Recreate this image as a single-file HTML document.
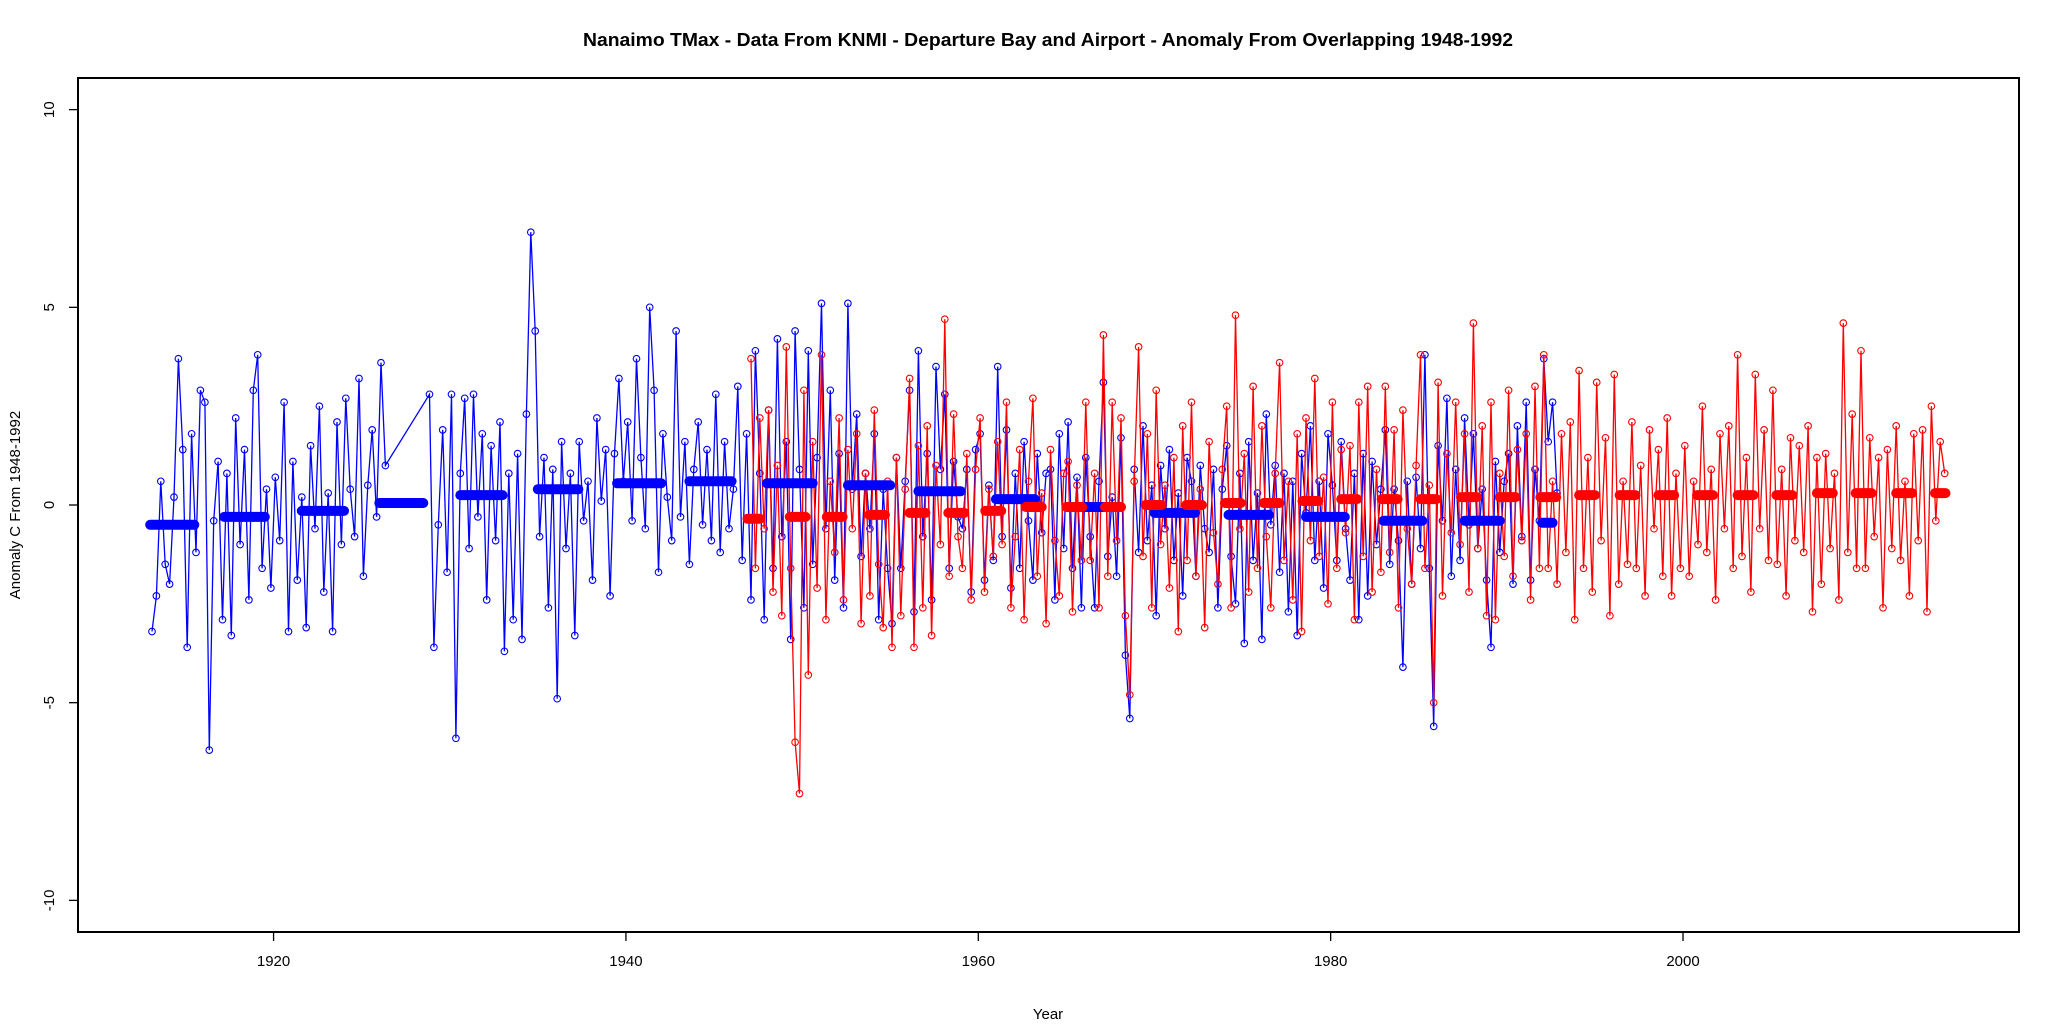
<!DOCTYPE html>
<html><head><meta charset="utf-8"><style>
html,body{margin:0;padding:0;background:#fff}
svg{display:block;font-family:"Liberation Sans",Arial,sans-serif}
</style></head><body>
<svg id="chart" width="2060" height="1029" viewBox="0 0 2060 1029" xmlns="http://www.w3.org/2000/svg">
<rect x="0" y="0" width="2060" height="1029" fill="#fff"/>
<text x="1048" y="46" text-anchor="middle" font-size="18" font-weight="bold" textLength="930" lengthAdjust="spacingAndGlyphs">Nanaimo TMax - Data From KNMI - Departure Bay and Airport - Anomaly From Overlapping 1948-1992</text>
<g id="series"></g>
<rect x="78" y="78" width="1941" height="854" fill="none" stroke="#000" stroke-width="2"/>
<g id="axes"></g>
<text x="1048" y="1019" text-anchor="middle" font-size="15">Year</text>
<text transform="translate(20,505) rotate(-90)" text-anchor="middle" font-size="15">Anomaly C From 1948-1992</text>
</svg>
<script>
const xTicks = [1920, 1940, 1960, 1980, 2000];
const yTicks = [-10, -5, 0, 5, 10];
const blueStart = 1913;
const blueValues = [
-3.2,-2.3,0.6,-1.5, -2.0,0.2,3.7,1.4, -3.6,1.8,-1.2,2.9, 2.6,-6.2,-0.4,1.1,
-2.9,0.8,-3.3,2.2, -1.0,1.4,-2.4,2.9, 3.8,-1.6,0.4,-2.1, 0.7,-0.9,2.6,-3.2,
1.1,-1.9,0.2,-3.1, 1.5,-0.6,2.5,-2.2, 0.3,-3.2,2.1,-1.0, 2.7,0.4,-0.8,3.2,
-1.8,0.5,1.9,-0.3, 3.6,1.0,null,null, null,null,null,null, null,null,null,2.8,
-3.6,-0.5,1.9,-1.7, 2.8,-5.9,0.8,2.7, -1.1,2.8,-0.3,1.8, -2.4,1.5,-0.9,2.1,
-3.7,0.8,-2.9,1.3, -3.4,2.3,6.9,4.4, -0.8,1.2,-2.6,0.9, -4.9,1.6,-1.1,0.8,
-3.3,1.6,-0.4,0.6, -1.9,2.2,0.1,1.4, -2.3,1.3,3.2,0.6, 2.1,-0.4,3.7,1.2,
-0.6,5.0,2.9,-1.7, 1.8,0.2,-0.9,4.4, -0.3,1.6,-1.5,0.9, 2.1,-0.5,1.4,-0.9,
2.8,-1.2,1.6,-0.6, 0.4,3.0,-1.4,1.8, -2.4,3.9,0.8,-2.9, 2.4,-1.6,4.2,-0.8,
1.6,-3.4,4.4,0.9, -2.6,3.9,-1.5,1.2, 5.1,-0.6,2.9,-1.9, 1.3,-2.6,5.1,0.4,
2.3,-1.3,0.8,-0.6, 1.8,-2.9,0.4,-1.6, -3.0,1.2,-1.6,0.6, 2.9,-2.7,3.9,-0.8,
1.3,-2.4,3.5,0.9, 2.8,-1.6,1.1,-0.3, -0.6,0.9,-2.2,1.4, 1.8,-1.9,0.5,-1.4,
3.5,-0.8,1.9,-2.1, 0.8,-1.6,1.6,-0.4, -1.9,1.3,-0.7,0.8, 0.9,-2.4,1.8,-1.1,
2.1,-1.6,0.7,-2.6, 1.2,-0.8,-2.6,0.6, 3.1,-1.3,0.2,-1.8, 1.7,-3.8,-5.4,0.9,
-1.2,2.0,-0.9,0.5, -2.8,1.0,-0.6,1.4, -1.4,0.3,-2.3,1.2, 0.6,-1.8,1.0,-0.6,
-1.2,0.9,-2.6,0.4, 1.5,-1.3,-2.5,0.8, -3.5,1.6,-1.4,0.3, -3.4,2.3,-0.5,1.0,
-1.7,0.8,-2.7,0.6, -3.3,1.3,-0.2,2.0, -1.4,0.6,-2.1,1.8, 0.5,-1.4,1.6,-0.6,
-1.9,0.8,-2.9,1.3, -2.3,1.1,-1.0,0.4, 1.9,-1.5,0.4,-0.9, -4.1,0.6,-2.0,0.7,
-1.1,3.8,-1.6,-5.6, 1.5,-0.4,2.7,-1.8, 0.9,-1.4,2.2,-0.5, 1.8,-1.1,0.4,-1.9,
-3.6,1.1,-1.2,0.6, 1.3,-2.0,2.0,-0.8, 2.6,-1.9,0.9,-0.4, 3.7,1.6,2.6,0.3
];
const redStart = 1947;
const redValues = [
3.7,-1.6,2.2,-0.6, 2.4,-2.2,1.0,-2.8, 4.0,-1.6,-6.0,-7.3, 2.9,-4.3,1.6,-2.1,
3.8,-2.9,0.6,-1.2, 2.2,-2.4,1.4,-0.6, 1.8,-3.0,0.8,-2.3, 2.4,-1.5,-3.1,0.6,
-3.6,1.2,-2.8,0.4, 3.2,-3.6,1.5,-2.6, 2.0,-3.3,1.0,-1.0, 4.7,-1.8,2.3,-0.8,
-1.6,1.3,-2.4,0.9, 2.2,-2.2,0.4,-1.3, 1.6,-1.0,2.6,-2.6, -0.8,1.4,-2.9,0.6,
2.7,-1.8,0.3,-3.0, 1.4,-0.9,-2.3,0.8, 1.1,-2.7,0.5,-1.4, 2.6,-1.4,0.8,-2.6,
4.3,-1.8,2.6,-0.9, 2.2,-2.8,-4.8,0.6, 4.0,-1.3,1.8,-2.6, 2.9,-1.0,0.5,-2.1,
1.2,-3.2,2.0,-1.4, 2.6,-1.8,0.4,-3.1, 1.6,-0.7,-2.0,0.9, 2.5,-2.6,4.8,-0.6,
1.3,-2.2,3.0,-1.6, 2.0,-0.8,-2.6,0.8, 3.6,-1.4,0.6,-2.4, 1.8,-3.2,2.2,-0.9,
3.2,-1.3,0.7,-2.5, 2.6,-1.6,1.4,-0.7, 1.5,-2.9,2.6,-1.3, 3.0,-2.2,0.9,-1.7,
3.0,-1.2,1.9,-2.6, 2.4,-0.6,-2.0,1.0, 3.8,-1.6,0.5,-5.0, 3.1,-2.3,1.3,-0.7,
2.6,-1.0,1.8,-2.2, 4.6,-1.1,2.0,-2.8, 2.6,-2.9,0.8,-1.3, 2.9,-1.8,1.4,-0.9,
1.8,-2.4,3.0,-1.6, 3.8,-1.6,0.6,-2.0, 1.8,-1.2,2.1,-2.9, 3.4,-1.6,1.2,-2.2,
3.1,-0.9,1.7,-2.8, 3.3,-2.0,0.6,-1.5, 2.1,-1.6,1.0,-2.3, 1.9,-0.6,1.4,-1.8,
2.2,-2.3,0.8,-1.6, 1.5,-1.8,0.6,-1.0, 2.5,-1.2,0.9,-2.4, 1.8,-0.6,2.0,-1.6,
3.8,-1.3,1.2,-2.2, 3.3,-0.6,1.9,-1.4, 2.9,-1.5,0.9,-2.3, 1.7,-0.9,1.5,-1.2,
2.0,-2.7,1.2,-2.0, 1.3,-1.1,0.8,-2.4, 4.6,-1.2,2.3,-1.6, 3.9,-1.6,1.7,-0.8,
1.2,-2.6,1.4,-1.1, 2.0,-1.4,0.6,-2.3, 1.8,-0.9,1.9,-2.7, 2.5,-0.4,1.6,0.8
];
const blueMeanStart = [1913.0,1917.2,1921.6,1926.0,1930.6,1935.0,1939.5,1943.6,1948.0,1952.6,1956.6,1961.0,1965.6,1970.0,1974.2,1978.6,1983.0,1987.6,1992.0];
const blueMeanEnd   = [1915.5,1919.5,1924.0,1928.5,1933.0,1937.3,1942.0,1946.0,1950.6,1955.0,1959.0,1963.2,1967.8,1972.3,1976.5,1980.8,1985.2,1989.6,1992.6];
const blueMeanValue = [-0.5,-0.3,-0.15,0.05,0.25,0.4,0.55,0.6,0.55,0.5,0.35,0.15,-0.05,-0.2,-0.25,-0.3,-0.4,-0.4,-0.45];
const redMeanStart = [1946.9,1949.3,1951.4,1953.8,1956.1,1958.3,1960.4,1962.7,1965.0,1967.2,1969.5,1971.8,1974.0,1976.2,1978.4,1980.6,1982.9,1985.1,1987.4,1989.6,1991.9,1994.1,1996.4,1998.6,2000.8,2003.1,2005.3,2007.6,2009.8,2012.1,2014.3];
const redMeanEnd   = [1947.6,1950.2,1952.3,1954.7,1957.0,1959.2,1961.3,1963.6,1965.9,1968.1,1970.4,1972.7,1974.9,1977.1,1979.3,1981.5,1983.8,1986.0,1988.3,1990.5,1992.8,1995.0,1997.3,1999.5,2001.7,2004.0,2006.2,2008.5,2010.7,2013.0,2014.9];
const redMeanValue = [-0.35,-0.3,-0.3,-0.25,-0.2,-0.2,-0.15,-0.05,-0.05,-0.05,0,0,0.05,0.05,0.1,0.15,0.15,0.15,0.2,0.2,0.2,0.25,0.25,0.25,0.25,0.25,0.25,0.3,0.3,0.3,0.3];

const NS = 'http://www.w3.org/2000/svg';
const X0 = 78, X1 = 2019, Y0 = 78, Y1 = 932;
const XMIN = 1908.9, XMAX = 2019.07, YMIN = -10.8, YMAX = 10.8;
function xs(v){ return X0 + (v - XMIN) / (XMAX - XMIN) * (X1 - X0); }
function ys(v){ return Y1 - (v - YMIN) / (YMAX - YMIN) * (Y1 - Y0); }
const series = document.getElementById('series');
const axes = document.getElementById('axes');

function drawSeries(start, vals, color, name){
  const g = document.createElementNS(NS, 'g');
  
  
  const pts = [];
  vals.forEach((v, i) => { if (v !== null) pts.push([xs(start + i * 0.25 + 0.1), ys(v)]); });
  const pl = document.createElementNS(NS, 'polyline');
  
  
  pl.setAttribute('points', pts.map(p => p[0].toFixed(1) + ',' + p[1].toFixed(1)).join(' '));
  pl.setAttribute('fill', 'none');
  pl.setAttribute('stroke', color);
  pl.setAttribute('stroke-width', '1.3');
  g.appendChild(pl);
  pts.forEach(p => {
    const c = document.createElementNS(NS, 'circle');
    
    
    c.setAttribute('cx', p[0].toFixed(1));
    c.setAttribute('cy', p[1].toFixed(1));
    c.setAttribute('r', '3.3');
    c.setAttribute('fill', 'none');
    c.setAttribute('stroke', color);
    c.setAttribute('stroke-width', '1.1');
    g.appendChild(c);
  });
  series.appendChild(g);
}
function drawMeans(starts, ends, vals, color, name){
  starts.forEach((s, i) => {
    const l = document.createElementNS(NS, 'line');
    
    
    l.setAttribute('x1', xs(s).toFixed(1));
    l.setAttribute('x2', xs(ends[i]).toFixed(1));
    l.setAttribute('y1', ys(vals[i]).toFixed(1));
    l.setAttribute('y2', ys(vals[i]).toFixed(1));
    l.setAttribute('stroke', color);
    l.setAttribute('stroke-width', '10');
    l.setAttribute('stroke-linecap', 'round');
    series.appendChild(l);
  });
}
drawSeries(blueStart, blueValues, '#0000ff', 'departure-bay-series');
drawSeries(redStart, redValues, '#ff0000', 'airport-series');
drawMeans(blueMeanStart, blueMeanEnd, blueMeanValue, '#0000ff', 'departure-bay-mean-segment');
drawMeans(redMeanStart, redMeanEnd, redMeanValue, '#ff0000', 'airport-mean-segment');

xTicks.forEach(t => {
  const x = xs(t);
  const l = document.createElementNS(NS, 'line');
  
  
  l.setAttribute('x1', x); l.setAttribute('x2', x);
  l.setAttribute('y1', Y1); l.setAttribute('y2', Y1 + 9);
  l.setAttribute('stroke', '#000'); l.setAttribute('stroke-width', '1.3');
  axes.appendChild(l);
  const tx = document.createElementNS(NS, 'text');
  
  
  tx.setAttribute('x', x); tx.setAttribute('y', Y1 + 34);
  tx.setAttribute('text-anchor', 'middle'); tx.setAttribute('font-size', '15');
  tx.textContent = t;
  axes.appendChild(tx);
});
yTicks.forEach(t => {
  const y = ys(t);
  const l = document.createElementNS(NS, 'line');
  
  
  l.setAttribute('x1', X0 - 9); l.setAttribute('x2', X0);
  l.setAttribute('y1', y); l.setAttribute('y2', y);
  l.setAttribute('stroke', '#000'); l.setAttribute('stroke-width', '1.3');
  axes.appendChild(l);
  const tx = document.createElementNS(NS, 'text');
  
  
  tx.setAttribute('transform', 'translate(' + (X0 - 24) + ',' + y + ') rotate(-90)');
  tx.setAttribute('text-anchor', 'middle'); tx.setAttribute('font-size', '15');
  tx.textContent = t;
  axes.appendChild(tx);
});
</script>
</body></html>
